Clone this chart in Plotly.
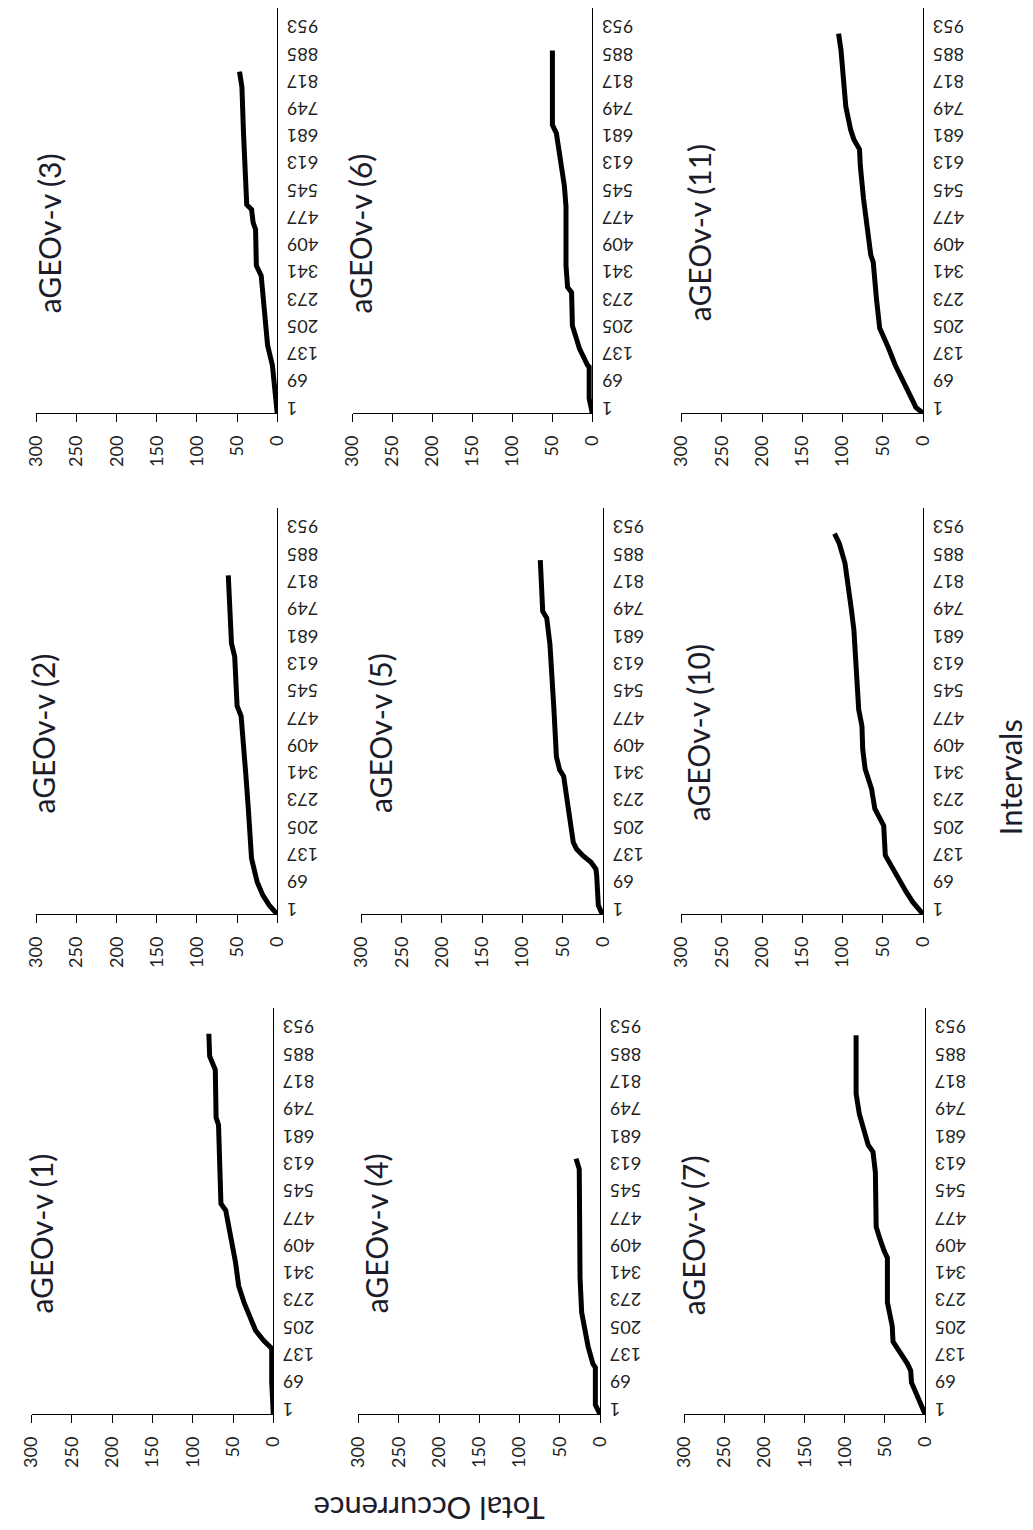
import plotly.graph_objects as go

# ---------------- data ----------------
tick_intervals = [1, 69, 137, 205, 273, 341, 409, 477, 545, 613, 681, 749, 817, 885, 953]
tick_labels = [str(v) for v in tick_intervals]
occ_ticks = [0, 50, 100, 150, 200, 250, 300]

titles = ["aGEOv-v (3)", "aGEOv-v (6)", "aGEOv-v (11)",
          "aGEOv-v (2)", "aGEOv-v (5)", "aGEOv-v (10)",
          "aGEOv-v (1)", "aGEOv-v (4)", "aGEOv-v (7)"]

int_1 = [1, 82, 165, 185, 210, 236, 278, 321, 381, 466, 509, 526, 637, 722, 740, 859, 893, 949]
val_1 = [0, 2, 2, 12, 22, 28, 36, 43, 47, 55, 59, 65, 66, 68, 71, 72, 79, 80]

int_2 = [1, 24, 49, 82, 140, 181, 264, 346, 429, 495, 520, 594, 643, 676, 759, 845]
val_2 = [0, 10, 18, 25, 32, 33, 36, 39, 42, 45, 50, 51, 53, 57, 59, 61]

int_3 = [1, 121, 171, 245, 345, 370, 460, 477, 510, 522, 593, 700, 816, 854]
val_3 = [0, 6, 12, 16, 20, 26, 27, 30, 32, 38, 39, 42, 44, 47]

int_4 = [1, 25, 118, 127, 170, 212, 255, 340, 468, 612, 638]
val_4 = [0, 6, 6, 9, 15, 19, 23, 25, 26, 26, 30]

int_5 = [1, 24, 98, 114, 131, 147, 164, 180, 262, 345, 361, 394, 509, 649, 673, 739, 756, 883]
val_5 = [1, 6, 8, 9, 15, 25, 33, 37, 43, 49, 54, 58, 61, 65, 66, 70, 75, 78]

int_6 = [1, 38, 117, 121, 162, 196, 220, 303, 316, 370, 518, 568, 659, 700, 721, 783, 907]
val_6 = [0, 4, 4, 6, 16, 22, 25, 26, 31, 33, 33, 35, 41, 45, 50, 50, 50]

int_7 = [1, 33, 67, 80, 110, 127, 144, 161, 182, 221, 255, 280, 391, 408, 442, 468, 604, 655, 672, 715, 749, 800, 945]
val_7 = [0, 6, 14, 17, 18, 22, 28, 34, 40, 41, 45, 47, 47, 51, 57, 61, 62, 65, 71, 77, 82, 86, 86]

int_10 = [1, 32, 57, 98, 140, 148, 222, 247, 264, 313, 363, 412, 470, 511, 594, 710, 759, 842, 875, 924, 949]
val_10 = [0, 13, 21, 33, 45, 47, 49, 55, 60, 64, 72, 75, 76, 80, 82, 86, 89, 94, 97, 104, 110]

int_11 = [1, 16, 41, 82, 107, 123, 164, 198, 214, 288, 330, 379, 396, 453, 536, 619, 660, 685, 709, 767, 825, 908, 949]
val_11 = [0, 9, 15, 25, 31, 35, 43, 51, 54, 58, 60, 62, 65, 69, 74, 78, 79, 86, 90, 96, 98, 102, 105]

series_int = [int_3, int_6, int_11, int_2, int_5, int_10, int_1, int_4, int_7]
series_val = [val_3, val_6, val_11, val_2, val_5, val_10, val_1, val_4, val_7]

# ---------------- layout (pixels) ----------------
W, H = 1033, 1530
boxes = [(25, 271, 8, 415), (348, 593, 8, 415), (684, 931, 8, 415),
         (25, 271, 510, 918), (357, 604, 510, 918), (684, 931, 510, 918),
         (20, 267, 1012, 1420), (354, 601, 1012, 1420), (687, 933, 1012, 1420)]
title_pos = [(38, 234), (356, 234), (702, 234),
             (32, 736), (376, 736), (701, 736),
             (30, 1238), (372, 1238), (696, 1240)]

FONT = "Lato, 'Open Sans', sans-serif"
TXT = "#222222"

fig = go.Figure()
layout = dict(width=W, height=H, autosize=False,
              margin=dict(l=0, r=0, t=0, b=0),
              paper_bgcolor="white", plot_bgcolor="white",
              showlegend=False, font=dict(family=FONT, color=TXT))
annotations = []

for i in range(9):
    n = i + 1
    xs = "" if n == 1 else str(n)
    fig.add_trace(go.Scatter(x=series_val[i], y=series_int[i], mode="lines",
                             line=dict(color="black", width=5),
                             xaxis="x" + xs, yaxis="y" + xs,
                             hoverinfo="skip"))
    l, r, t, b = boxes[i]
    layout["xaxis" + xs] = dict(
        domain=[l / W, r / W], anchor="y" + xs,
        range=[300, 0], tickvals=occ_ticks, tickangle=-90,
        ticks="outside", ticklen=8, tickcolor="black", tickwidth=1,
        showline=True, linecolor="black", linewidth=1,
        showgrid=False, zeroline=False, fixedrange=True,
        tickfont=dict(size=18, family=FONT, color=TXT),
        ticklabelstandoff=6)
    layout["yaxis" + xs] = dict(
        domain=[1 - b / H, 1 - t / H], anchor="x" + xs, side="right",
        range=[1, 1013], tickvals=tick_intervals, ticktext=tick_labels,
        tickangle=180, ticks="", ticklabelposition="inside",
        ticklabeloverflow="allow",
        showline=True, linecolor="black", linewidth=1,
        showgrid=False, zeroline=False, fixedrange=True,
        tickfont=dict(size=18, family=FONT, color=TXT),
        ticklabelstandoff=-9)
    tx, ty = title_pos[i]
    annotations.append(dict(text=titles[i], x=tx / W, y=1 - ty / H,
                            xref="paper", yref="paper", showarrow=False,
                            textangle=-90, xanchor="center", yanchor="middle",
                            font=dict(size=30, family=FONT, color="#1c1c2a")))

annotations.append(dict(text="Intervals", x=1020 / W, y=1 - 780 / H,
                        xref="paper", yref="paper", showarrow=False,
                        textangle=-90, xanchor="center", yanchor="middle",
                        font=dict(size=31, family=FONT, color="#1c1c2a")))
annotations.append(dict(text="Total Occurrence", x=426 / W, y=1 - 1515 / H,
                        xref="paper", yref="paper", showarrow=False,
                        textangle=180, xanchor="center", yanchor="middle",
                        font=dict(size=31, family=FONT, color="#1c1c2a")))
layout["annotations"] = annotations
fig.update_layout(**layout)
fig.write_html("out.html", config={"displayModeBar": False},
               post_script="document.body.style.margin='0';document.body.style.overflow='hidden';")
